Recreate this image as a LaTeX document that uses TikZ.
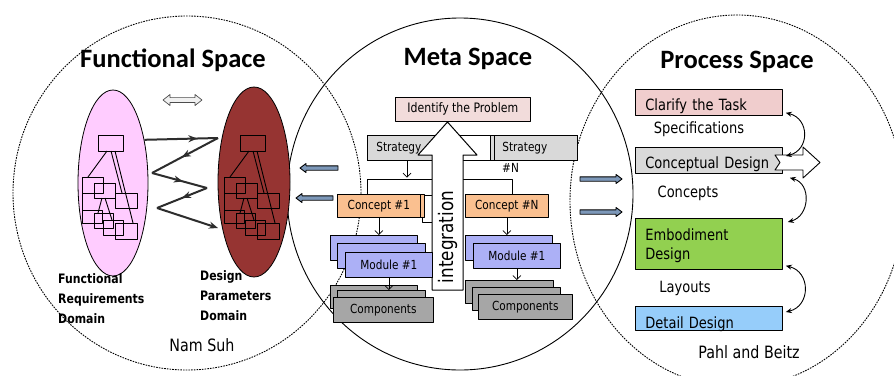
\documentclass[tikz,border=0pt]{standalone}
\usepackage{fontspec}
\setmainfont{DejaVu Sans}[FakeStretch=0.84]
\newfontfamily\titlefont{Carlito}
\usetikzlibrary{arrows.meta,shapes.geometric,decorations.markings}

\definecolor{frpink}{RGB}{255,204,255}
\definecolor{dpred}{RGB}{150,52,50}
\definecolor{idpink}{RGB}{242,220,219}
\definecolor{clpink}{RGB}{240,205,205}
\definecolor{stgray}{RGB}{217,217,217}
\definecolor{cporange}{RGB}{250,192,144}
\definecolor{modblue}{RGB}{172,176,246}
\definecolor{cmpgray}{RGB}{166,166,166}
\definecolor{embgreen}{RGB}{146,208,80}
\definecolor{detblue}{RGB}{150,205,250}
\definecolor{blockblue}{RGB}{125,152,185}
\definecolor{zigcol}{RGB}{45,45,45}

% hierarchy of boxes drawn inside each domain
\newcommand\designtree{%
  \draw (0,0) rectangle (25,16);
  \draw (-16,42) rectangle (5,58);
  \draw (-4,48) rectangle (17,63);
  \draw (17,58) rectangle (39,73);
  \draw (-16,75) rectangle (4,88);
  \draw (-4,78) rectangle (15,93);
  \draw (5,85) rectangle (25,100);
  \draw (17,88) rectangle (39,104);
  \draw (9,16) -- (-10,42);
  \draw (13,16) -- (24,58);
  \draw (17,16) -- (35,88);
  \draw (-16,58) -- (-16,75);
  \draw (4,63) -- (0,78);
  \draw (7,63) -- (14,85);
}

\tikzset{
  spaceline/.style={line width=0.9pt},
  spacedash/.style={line width=0.9pt, dash pattern=on 1.6pt off 1.1pt},
  title/.style={font=\titlefont\bfseries\fontsize{26.5}{30}\selectfont, inner sep=0pt},
  lab/.style={font=\bfseries\fontsize{13}{20}\selectfont, align=left, inner sep=0pt},
  mbox/.style={draw, line width=0.7pt, anchor=north west, inner sep=0pt,
    font=\fontsize{12.5}{15}\selectfont},
  pbox/.style={draw, line width=0.8pt, anchor=north west, inner xsep=10pt,
    inner ysep=0pt, text width=127pt, align=left, text depth=0pt,
    font=\fontsize{15.5}{19}\selectfont},
  plab/.style={font=\fontsize{15.5}{19}\selectfont, inner sep=0pt},
  zig/.style={draw=zigcol, line width=2pt},
  midarrow/.style={postaction={decorate}, decoration={markings,
    mark=at position #1 with {\arrow{Stealth[length=9pt,width=7pt]}}}},
  darrow/.style={-{Straight Barb[length=4pt,width=8pt]}, line width=0.7pt},
  carrow/.style={{Stealth[length=6pt,width=5pt]}-{Stealth[length=6pt,width=5pt]},
    line width=0.9pt},
  blockarr/.style={fill=blockblue, draw=black, line width=0.9pt},
}

\begin{document}
\begin{tikzpicture}[x=1pt,y=-1pt,line join=round]
\useasboundingbox (0,0) rectangle (894,375);
\fill[white] (0,0) rectangle (894,375);

% the three spaces
\draw[spacedash] (187,193) ellipse [x radius=174, y radius=177];
\draw[spaceline] (460,194) ellipse [x radius=173, y radius=176];
\draw[spacedash] (737,201) ellipse [x radius=167, y radius=186];

\node[title, anchor=base] (ftitle) at (173,67) {Functional Space};
\node[title, anchor=base] (mtitle) at (468,65) {Meta Space};
\node[title, anchor=base] (ptitle) at (737,68) {Process Space};

% ---------------- functional space ----------------
\node[ellipse, draw, line width=0.8pt, fill=frpink, minimum width=70pt,
      minimum height=186pt, inner sep=0pt] (fr) at (113,183) {};
\node[ellipse, draw, line width=0.8pt, fill=dpred, minimum width=72pt,
      minimum height=190pt, inner sep=0pt] (dp) at (254,182) {};
\begin{scope}[shift={(98,135)}, line width=0.9pt] \designtree \end{scope}
\begin{scope}[shift={(240,135)}, line width=0.9pt] \designtree \end{scope}

\coordinate (z1) at (218,138);
\coordinate (z2) at (152,173);
\coordinate (z3) at (207,188);
\coordinate (z4) at (157,208);
\coordinate (z5) at (218,228);
\draw[zig, midarrow=0.72] (fr.54) -- (z1);
\draw[zig, midarrow=0.55] (z1) -- (z2);
\draw[zig, midarrow=0.56] (z2) -- (z3);
\draw[zig, midarrow=0.5] (z3) -- (z4);
\draw[zig, -{Stealth[length=9pt,width=7pt]}] (z4) -- (z5);

% two-way mapping symbol
\draw[fill=gray!12, draw=gray!60!black, line width=0.7pt]
  (163,100) -- (170,94.5) -- (170,97.6) -- (195,97.6) -- (195,94.5) -- (202,100)
  -- (195,105.5) -- (195,102.4) -- (170,102.4) -- (170,105.5) -- cycle;

\node[lab, anchor=north west] (frlab) at (58,273) {Functional\\Requirements\\Domain};
\node[lab, anchor=north west] (dplab) at (200,270) {Design\\Parameters\\Domain};
\node[font=\fontsize{17}{20}\selectfont, inner sep=0pt] (suh) at (202,345) {Nam Suh};

% block arrows leaving the meta space
\draw[blockarr] (300,168) -- ++(6,-4.5) -- ++(0,2.3) -- ++(32,0) -- ++(0,4.4)
  -- ++(-32,0) -- ++(0,2.3) -- cycle;
\draw[blockarr] (296,198) -- ++(6,-4.5) -- ++(0,2.3) -- ++(31,0) -- ++(0,4.4)
  -- ++(-31,0) -- ++(0,2.3) -- cycle;
\draw[blockarr] (622,179) -- ++(-6,-4.5) -- ++(0,2.3) -- ++(-36,0) -- ++(0,4.4)
  -- ++(36,0) -- ++(0,2.3) -- cycle;
\draw[blockarr] (622,212) -- ++(-6,-4.5) -- ++(0,2.3) -- ++(-36,0) -- ++(0,4.4)
  -- ++(36,0) -- ++(0,2.3) -- cycle;

% ---------------- meta space ----------------
\node[mbox, fill=white, minimum width=125pt, minimum height=25pt] (stback) at (367,135) {};
\node[mbox, fill=stgray, minimum width=69pt, minimum height=25pt, inner xsep=9pt,
      text width=51pt, align=left] (st1) at (367,135) {Strategy};
\node[mbox, fill=stgray, minimum width=87pt, minimum height=25pt, line width=1pt] (stNb) at (490,135) {};
\node[mbox, fill=stgray, minimum width=83pt, minimum height=25pt, inner xsep=8pt,
      text width=67pt, align=left] (stN) at (494,135) {Strategy};
\node[font=\fontsize{12.5}{15}\selectfont, anchor=west, inner sep=0pt] (stNlab) at (502,168) {\#N};

\draw[darrow] ([xshift=40pt]st1.south west) -- ++(0,17);
\draw[line width=0.7pt] (367,194) -- (367,179) -- (512,179) -- (512,194);

\node[mbox, fill=white, minimum width=23pt, minimum height=27pt] (c1w) at (422,195) {};
\node[mbox, fill=cporange, minimum width=84pt, minimum height=23pt, line width=1.1pt] (c1b) at (340,194) {};
\node[mbox, fill=cporange, minimum width=83pt, minimum height=23pt] (c1) at (337,194) {Concept \#1};
\node[mbox, fill=cporange, minimum width=83pt, minimum height=23pt] (cN) at (465,194) {Concept \#N};

% integration arrow
\draw[fill=white, line width=1pt] (432,290) -- (432,155) -- (418,155) -- (447.5,122)
  -- (477,155) -- (463,155) -- (463,290) -- cycle;
\node[rotate=90, font=\fontsize{20}{22}\selectfont, inner sep=0pt] (integ) at (447.5,237) {integration};

\node[mbox, fill=idpink, minimum width=135pt, minimum height=24pt,
      font=\fontsize{13}{15}\selectfont] (ident) at (395,97) {Identify the Problem};

\node[mbox, fill=modblue, minimum width=87pt, minimum height=25pt] (m1a) at (330,235) {};
\node[mbox, fill=modblue, minimum width=88pt, minimum height=25pt] (m1b) at (337,243) {};
\node[mbox, fill=modblue, minimum width=87pt, minimum height=25pt] (m1) at (345,252) {Module \#1};
\node[mbox, fill=modblue, minimum width=87pt, minimum height=25pt] (mNa) at (465,235) {};
\node[mbox, fill=modblue, minimum width=87pt, minimum height=25pt] (mN) at (473,243) {Module \#1};

\node[mbox, fill=cmpgray, minimum width=87pt, minimum height=23pt] (k1a) at (330,285) {};
\node[mbox, fill=cmpgray, minimum width=88pt, minimum height=23pt] (k1b) at (337,290) {};
\node[mbox, fill=cmpgray, minimum width=100pt, minimum height=25pt] (k1) at (333,297) {Components};
\node[mbox, fill=cmpgray, minimum width=88pt, minimum height=23pt] (kNa) at (465,280) {};
\node[mbox, fill=cmpgray, minimum width=88pt, minimum height=23pt] (kNb) at (472,287) {};
\node[mbox, fill=cmpgray, minimum width=94pt, minimum height=25pt] (kN) at (478,294) {Components};

\draw[darrow] (c1.south) -- (c1.south |- m1a.north);
\draw[darrow] (cN.south) -- (cN.south |- mNa.north);
\draw[darrow] (m1.south) -- (m1.south |- k1b.north);
\draw[darrow] (mN.south) -- (mN.south |- kNa.north);

% ---------------- process space ----------------
\node[pbox, fill=clpink, minimum height=26pt, text height=17pt] (clarify) at (635,89) {Clarify the Task};
\node[pbox, fill=stgray, minimum height=26pt, text height=17pt] (concept) at (635,147) {Conceptual Design};
\node[pbox, fill=embgreen, minimum height=51pt, text height=12pt, text depth=19pt] (embod) at (635,218) {Embodiment\\Design};
\node[pbox, fill=detblue, minimum height=24pt, text height=20pt] (detail) at (635,306) {Detail Design};

\node[plab] (spec) at (699,129) {Specifications};
\node[plab] (concl) at (688,193) {Concepts};
\node[plab] (layl) at (685,288) {Layouts};
\node[font=\fontsize{17}{20}\selectfont, inner sep=0pt] (pahl) at (749,352) {Pahl and Beitz};

% output of the conceptual stage
\draw[fill=white, line width=0.9pt] (775,155) -- (803,155) -- (803,147) -- (820,162.5)
  -- (803,178) -- (803,170) -- (775,170) -- (780,162.5) -- cycle;

\draw[carrow] ([shift={(3,-3)}]clarify.south east)
  .. controls +(24,6) and +(24,-6) .. ([shift={(3,9)}]concept.north east);
\draw[carrow] ([shift={(7,4)}]concept.south east)
  .. controls +(22,6) and +(22,-6) .. ([shift={(5,4)}]embod.north east);
\draw[carrow] ([shift={(3,-4)}]embod.south east)
  .. controls +(25,6) and +(25,-6) .. ([shift={(3,6)}]detail.north east);
\end{tikzpicture}
\end{document}
